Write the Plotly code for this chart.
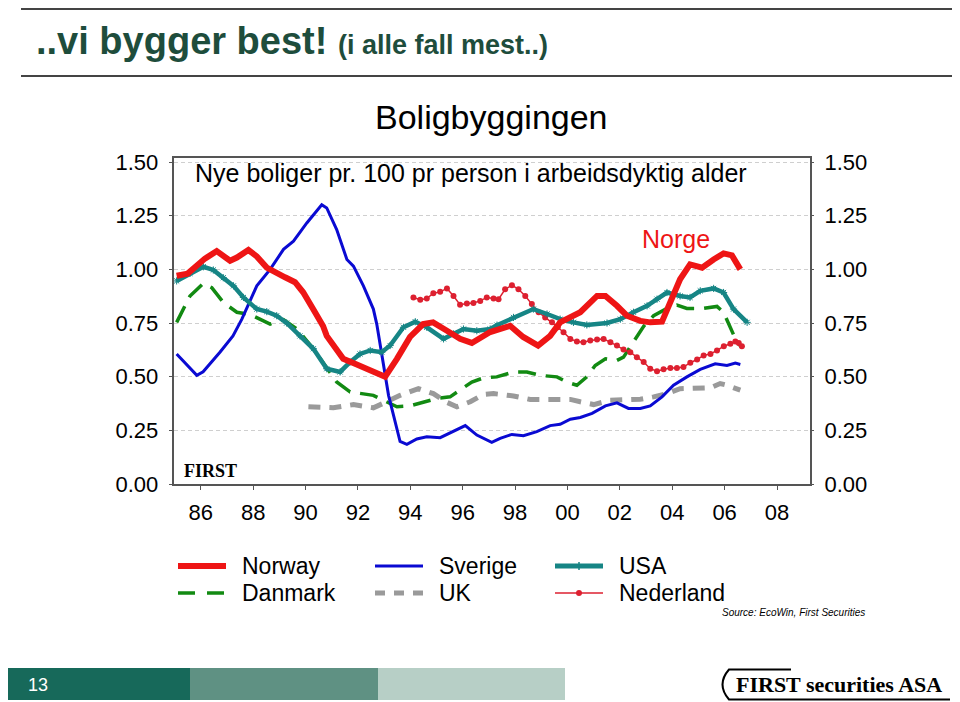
import plotly.graph_objects as go

# ---------------- data ----------------
norway_x = [1985.08, 1985.5, 1986.16, 1986.61, 1987.12, 1987.38, 1987.82, 1988.14, 1988.52, 1988.90,
            1989.22, 1989.60, 1989.91, 1990.29, 1990.67, 1990.81, 1991.44, 1991.89, 1992.47, 1993.04,
            1993.49, 1993.99, 1994.49, 1994.87, 1995.40, 1995.90, 1996.35, 1996.78, 1997.05, 1997.81,
            1998.31, 1998.88, 1999.34, 1999.72, 1999.98, 2000.49, 2001.13, 2001.45, 2001.89, 2002.27,
            2002.78, 2003.16, 2003.61, 2003.92, 2004.30, 2004.68, 2005.14, 2005.58, 2005.96, 2006.28,
            2006.60]
norway_y = [0.97, 0.98, 1.05, 1.085, 1.04, 1.055, 1.09, 1.06, 1.008, 0.98,
            0.963, 0.94, 0.893, 0.815, 0.736, 0.69, 0.583, 0.56, 0.53, 0.50,
            0.583, 0.685, 0.745, 0.753, 0.714, 0.676, 0.657, 0.69, 0.708, 0.737,
            0.685, 0.645, 0.69, 0.753, 0.768, 0.80, 0.876, 0.876, 0.83, 0.784,
            0.76, 0.753, 0.756, 0.847, 0.954, 1.023, 1.008, 1.046, 1.074, 1.065,
            1.0]

sverige_x = [1985.08, 1985.85, 1986.09, 1986.74, 1987.23, 1987.57, 1988.14, 1988.65, 1989.16, 1989.54,
             1990.05, 1990.62, 1990.81, 1991.19, 1991.58, 1991.83, 1992.21, 1992.59, 1992.72, 1993.17,
             1993.61, 1993.87, 1994.25, 1994.63, 1995.14, 1995.65, 1996.10, 1996.54, 1997.11, 1997.43,
             1997.88, 1998.32, 1998.83, 1999.34, 1999.72, 2000.11, 2000.49, 2000.94, 2001.45, 2001.89,
             2002.33, 2002.78, 2003.16, 2003.61, 2004.05, 2004.56, 2005.07, 2005.64, 2006.09, 2006.41,
             2006.60]
sverige_y = [0.606, 0.506, 0.523, 0.615, 0.69, 0.768, 0.923, 1.0, 1.093, 1.131,
             1.216, 1.301, 1.286, 1.185, 1.046, 1.015, 0.923, 0.815, 0.745, 0.413,
             0.198, 0.185, 0.21, 0.22, 0.216, 0.244, 0.272, 0.228, 0.194, 0.213,
             0.231, 0.225, 0.244, 0.272, 0.278, 0.302, 0.31, 0.329, 0.364, 0.378,
             0.352, 0.352, 0.364, 0.406, 0.46, 0.499, 0.534, 0.56, 0.552, 0.563,
             0.557]

danmark_x = [1985.08, 1985.59, 1986.10, 1986.42, 1986.86, 1987.38, 1987.88, 1988.27, 1988.65, 1989.16,
             1989.67, 1990.30, 1990.81, 1991.19, 1991.70, 1992.21, 1992.59, 1992.97, 1993.49, 1993.99,
             1994.50, 1995.01, 1995.52, 1995.90, 1996.35, 1996.79, 1997.30, 1997.94, 1998.45, 1998.96,
             1999.60, 1999.98, 2000.36, 2000.74, 2001.06, 2001.45, 2001.89, 2002.14, 2002.52, 2002.91,
             2003.29, 2003.80, 2004.18, 2004.56, 2005.20, 2005.71, 2005.96, 2006.22, 2006.47, 2006.66]
danmark_y = [0.753, 0.876, 0.935, 0.915, 0.846, 0.80, 0.79, 0.768, 0.745, 0.765,
             0.722, 0.63, 0.537, 0.475, 0.429, 0.421, 0.413, 0.39, 0.36, 0.364,
             0.383, 0.398, 0.406, 0.437, 0.475, 0.494, 0.499, 0.522, 0.522, 0.506,
             0.499, 0.475, 0.46, 0.499, 0.552, 0.583, 0.576, 0.591, 0.66, 0.735,
             0.784, 0.818, 0.833, 0.818, 0.818, 0.827, 0.80, 0.73, 0.66, 0.637]

uk_x = [1990.11, 1990.56, 1991.06, 1991.83, 1992.21, 1992.59, 1993.10, 1993.61, 1994.31, 1994.88,
        1995.40, 1995.78, 1996.29, 1996.79, 1997.18, 1997.94, 1998.58, 1999.47, 2000.11, 2000.49,
        2001.00, 2001.63, 2002.14, 2002.78, 2003.29, 2003.80, 2004.30, 2004.95, 2005.45, 2005.83,
        2006.09, 2006.60]
uk_y = [0.36, 0.355, 0.355, 0.37, 0.364, 0.355, 0.383, 0.413, 0.444, 0.421,
        0.38, 0.36, 0.383, 0.417, 0.421, 0.41, 0.394, 0.394, 0.394, 0.383,
        0.37, 0.39, 0.39, 0.395, 0.406, 0.421, 0.444, 0.448, 0.448, 0.468,
        0.46, 0.437]

usa_x = [1985.08, 1985.59, 1986.10, 1986.48, 1986.86, 1987.25, 1987.63, 1988.14, 1988.52, 1988.90,
         1989.28, 1989.79, 1990.30, 1990.81, 1991.32, 1991.70, 1992.08, 1992.47, 1992.91, 1993.23,
         1993.74, 1994.19, 1994.63, 1995.27, 1995.65, 1996.03, 1996.54, 1997.05, 1997.31, 1997.94,
         1998.70, 1999.22, 1999.72, 2000.23, 2000.74, 2001.51, 2002.02, 2002.52, 2003.04, 2003.42,
         2003.80, 2004.30, 2004.68, 2005.07, 2005.58, 2005.96, 2006.34, 2006.86]
usa_y = [0.946, 0.981, 1.012, 0.997, 0.961, 0.923, 0.869, 0.815, 0.803, 0.784,
         0.75, 0.69, 0.63, 0.537, 0.522, 0.568, 0.606, 0.622, 0.614, 0.645,
         0.73, 0.756, 0.73, 0.676, 0.699, 0.722, 0.714, 0.722, 0.74, 0.776,
         0.815, 0.792, 0.768, 0.753, 0.741, 0.75, 0.768, 0.80, 0.83, 0.861,
         0.892, 0.876, 0.869, 0.90, 0.911, 0.892, 0.815, 0.753]

nederland_x = [1994.12, 1994.38, 1994.63, 1994.88, 1995.14, 1995.40, 1995.65, 1995.90, 1996.16, 1996.41,
               1996.67, 1996.92, 1997.18, 1997.37, 1997.62, 1997.88, 1998.13, 1998.39, 1998.64, 1998.90,
               1999.15, 1999.41, 1999.63, 1999.85, 2000.11, 2000.36, 2000.61, 2000.87, 2001.13, 2001.38,
               2001.64, 2001.89, 2002.14, 2002.40, 2002.65, 2002.91, 2003.16, 2003.42, 2003.67, 2003.93,
               2004.18, 2004.43, 2004.69, 2004.95, 2005.20, 2005.46, 2005.71, 2005.97, 2006.22, 2006.41,
               2006.54, 2006.66]
nederland_y = [0.869, 0.858, 0.864, 0.889, 0.895, 0.911, 0.876, 0.835, 0.841, 0.843,
               0.853, 0.869, 0.864, 0.861, 0.907, 0.926, 0.907, 0.876, 0.838, 0.80,
               0.776, 0.753, 0.73, 0.707, 0.676, 0.664, 0.66, 0.668, 0.673, 0.676,
               0.66, 0.645, 0.626, 0.614, 0.591, 0.568, 0.537, 0.525, 0.534, 0.54,
               0.54, 0.545, 0.565, 0.58, 0.599, 0.606, 0.622, 0.642, 0.653, 0.664,
               0.657, 0.642]

x_tickvals = [1986, 1988, 1990, 1992, 1994, 1996, 1998, 2000, 2002, 2004, 2006, 2008]
x_ticktext = ["86", "88", "90", "92", "94", "96", "98", "00", "02", "04", "06", "08"]
y_tickvals = [0, 0.25, 0.5, 0.75, 1.0, 1.25, 1.5]
y_ticktext = ["0.00", "0.25", "0.50", "0.75", "1.00", "1.25", "1.50"]

# ---------------- styling ----------------
FONT = "Liberation Sans, Arial, sans-serif"
SERIF = "Liberation Serif, Times New Roman, serif"
RED = "#ee1515"
BLUE = "#0a0ad2"
GREEN = "#128a12"
GRAY = "#9a9a9a"
TEAL = "#168585"
NLRED = "#dd2030"
AXC = "#555555"

# page body has an 8px margin: figure is placed at (8, 8) in the 960x702 window
OX, OY = 8, 8
FW, FH = 960 - OX, 702 - OY


def px(x):
    return (x - OX) / FW


def py(y):
    return 1 - (y - OY) / FH


fig = go.Figure()

fig.add_trace(go.Scatter(x=danmark_x, y=danmark_y, mode="lines", name="Danmark",
                         line=dict(color=GREEN, width=3.5, dash="18px,10px")))
fig.add_trace(go.Scatter(x=uk_x, y=uk_y, mode="lines", name="UK",
                         line=dict(color=GRAY, width=5, dash="12px,9px")))
fig.add_trace(go.Scatter(x=sverige_x, y=sverige_y, mode="lines", name="Sverige",
                         line=dict(color=BLUE, width=3)))
fig.add_trace(go.Scatter(x=nederland_x, y=nederland_y, mode="lines+markers", name="Nederland",
                         line=dict(color=NLRED, width=1.5),
                         marker=dict(color=NLRED, size=6, symbol="circle")))
fig.add_trace(go.Scatter(x=usa_x, y=usa_y, mode="lines+markers", name="USA",
                         line=dict(color=TEAL, width=4.5),
                         marker=dict(color=TEAL, size=6, symbol="asterisk-open",
                                     line=dict(color=TEAL, width=1))))
fig.add_trace(go.Scatter(x=norway_x, y=norway_y, mode="lines", name="Norway",
                         line=dict(color=RED, width=6)))

plot_l, plot_r, plot_t, plot_b = 173.5, 810, 158, 484
y_top = 1.5 * (plot_b - plot_t) / (plot_b - 162)

fig.update_layout(
    width=FW, height=FH,
    margin=dict(l=0, r=0, t=0, b=0, pad=0, autoexpand=False),
    paper_bgcolor="white", plot_bgcolor="white",
    showlegend=False,
    font=dict(family=FONT, color="black"),
    xaxis=dict(domain=[px(plot_l), px(plot_r)], range=[1984.96, 2009.26],
               tickvals=x_tickvals, ticktext=x_ticktext, automargin=False,
               ticks="outside", ticklen=4, tickwidth=1.2, tickcolor=AXC,
               showline=True, linecolor=AXC, linewidth=1.5, mirror=True,
               showgrid=False, zeroline=False, ticklabelstandoff=4,
               tickfont=dict(size=22, family=FONT, color="black")),
    yaxis=dict(domain=[py(plot_b), py(plot_t)], range=[0, y_top],
               tickvals=y_tickvals, ticktext=y_ticktext, automargin=False,
               ticks="outside", ticklen=3, tickwidth=1.2, tickcolor=AXC,
               showline=True, linecolor=AXC, linewidth=1.5, mirror=True,
               showgrid=True, gridcolor="#cfcfcf", gridwidth=1, griddash="4px,3px",
               zeroline=False, ticklabelstandoff=6,
               tickfont=dict(size=22, family=FONT, color="black")),
    yaxis2=dict(overlaying="y", side="right", matches="y", range=[0, y_top],
                tickvals=y_tickvals, ticktext=y_ticktext, automargin=False,
                ticks="outside", ticklen=3, tickwidth=1.2, tickcolor=AXC,
                showline=False, showgrid=False, zeroline=False, ticklabelstandoff=6,
                tickfont=dict(size=22, family=FONT, color="black")),
)
# invisible trace to activate the right-hand axis
fig.add_trace(go.Scatter(x=[None], y=[None], yaxis="y2", showlegend=False, hoverinfo="skip"))

shapes = []
annotations = []

# header rules
for yy in (9, 76):
    shapes.append(dict(type="line", xref="paper", yref="paper", x0=px(21), x1=px(960),
                       y0=py(yy), y1=py(yy), line=dict(color="#444444", width=2)))

annotations.append(dict(
    xref="paper", yref="paper", x=px(34), y=py(41), xanchor="left", yanchor="middle",
    text="<b>..vi bygger best!</b> <span style='font-size:27px'><b>(i alle fall mest..)</b></span>",
    showarrow=False, font=dict(size=38, family=FONT, color="#1e4d3c")))

annotations.append(dict(xref="paper", yref="paper", x=px(491), y=py(117), xanchor="center",
                        yanchor="middle", text="Boligbyggingen", showarrow=False,
                        font=dict(size=34, family=FONT, color="black")))
annotations.append(dict(xref="paper", yref="paper", x=px(193), y=py(173), xanchor="left",
                        yanchor="middle", text="Nye boliger pr. 100 pr person i arbeidsdyktig alder",
                        showarrow=False, font=dict(size=25, family=FONT, color="black")))
annotations.append(dict(xref="paper", yref="paper", x=px(676), y=py(239), xanchor="center",
                        yanchor="middle", text="Norge", showarrow=False,
                        font=dict(size=25, family=FONT, color=RED)))
annotations.append(dict(xref="paper", yref="paper", x=px(182), y=py(471), xanchor="left",
                        yanchor="middle", text="<b>FIRST</b>", showarrow=False,
                        font=dict(size=18, family=SERIF, color="black")))

# legend (drawn manually)
leg = [
    ("Norway", 178, 566, dict(color=RED, width=6), None),
    ("Sverige", 375, 566, dict(color=BLUE, width=3), None),
    ("USA", 555, 566, dict(color=TEAL, width=5), "tick"),
    ("Danmark", 178, 593, dict(color=GREEN, width=3.5, dash="17px,12px"), None),
    ("UK", 375, 593, dict(color=GRAY, width=5, dash="10px,9px"), None),
    ("Nederland", 555, 593, dict(color=NLRED, width=1.5), "dot"),
]
for name, x0, yy, ln, mk in leg:
    shapes.append(dict(type="line", xref="paper", yref="paper", x0=px(x0), x1=px(x0 + 48),
                       y0=py(yy), y1=py(yy), line=ln))
    if mk == "dot":
        shapes.append(dict(type="circle", xref="paper", yref="paper",
                           x0=px(x0 + 21), x1=px(x0 + 27), y0=py(yy - 3), y1=py(yy + 3),
                           fillcolor=NLRED, line=dict(color=NLRED, width=0)))
    if mk == "tick":
        shapes.append(dict(type="line", xref="paper", yref="paper",
                           x0=px(x0 + 24), x1=px(x0 + 24), y0=py(yy - 4), y1=py(yy + 4),
                           line=dict(color=TEAL, width=1.5)))
    annotations.append(dict(xref="paper", yref="paper", x=px(x0 + 62), y=py(yy), xanchor="left",
                            yanchor="middle", text=name, showarrow=False,
                            font=dict(size=23, family=FONT, color="black")))

annotations.append(dict(xref="paper", yref="paper", x=px(867), y=py(612), xanchor="right",
                        yanchor="middle", text="<i>Source: EcoWin, First Securities</i>",
                        showarrow=False, font=dict(size=10, family=FONT, color="black")))

# footer bar
for x0, x1, c in ((OX, 190, "#17695a"), (190, 378, "#5f9183"), (378, 565, "#b7cfc6")):
    shapes.append(dict(type="rect", xref="paper", yref="paper", x0=px(x0), x1=px(x1),
                       y0=py(700), y1=py(668), fillcolor=c, line=dict(width=0)))
annotations.append(dict(xref="paper", yref="paper", x=px(26), y=py(685), xanchor="left",
                        yanchor="middle", text="13", showarrow=False,
                        font=dict(size=18, family=FONT, color="white")))

# logo
logo_path = "M {} {} L {} {} Q {} {} {} {} L {} {}".format(
    px(791), py(669.5), px(729), py(669.5), px(716), py(684.5), px(729), py(699.5),
    px(950), py(699.5))
shapes.append(dict(type="path", xref="paper", yref="paper", path=logo_path,
                   line=dict(color="black", width=2)))
annotations.append(dict(xref="paper", yref="paper", x=px(734), y=py(684), xanchor="left",
                        yanchor="middle", text="<b>FIRST securities ASA</b>", showarrow=False,
                        font=dict(size=22, family=SERIF, color="black")))

fig.update_layout(shapes=shapes, annotations=annotations)

fig.write_html("out.html")
